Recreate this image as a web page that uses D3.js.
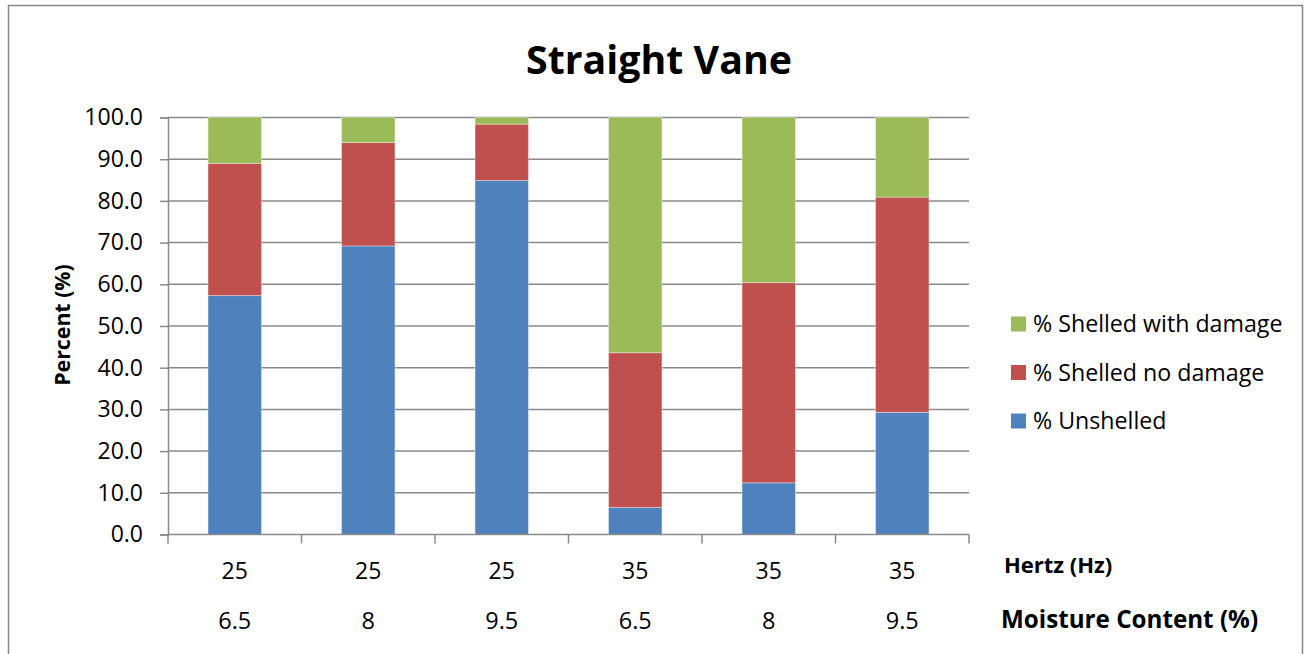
<!DOCTYPE html>
<html>
<head>
<meta charset="utf-8">
<script src="https://cdn.jsdelivr.net/npm/d3@7"></script>
<style>
  html, body { margin: 0; padding: 0; background: #fff; }
  svg { display: block; }
  text { font-family: "Open Sans", "Liberation Sans", sans-serif; fill: #000; }
</style>
</head>
<body>
<svg id="chart" width="1310" height="654"></svg>
<script>
// Test conditions: vibration frequency and kernel moisture content
const hertz = ["25", "25", "25", "35", "35", "35"];
const moisture = ["6.5", "8", "9.5", "6.5", "8", "9.5"];

// Outcome shares (%) for each condition
const unshelled        = [57.3, 69.2, 84.9,  6.5, 12.4, 29.3];
const shelledNoDamage  = [31.7, 24.8, 13.5, 37.1, 48.0, 51.6];
const shelledWithDamage= [11.0,  6.0,  1.6, 56.4, 39.6, 19.1];

const seriesNames = ["% Unshelled", "% Shelled no damage", "% Shelled with damage"];
const seriesColors = ["#4F81BD", "#C0504D", "#9BBB59"];
const yTicks = [0, 10, 20, 30, 40, 50, 60, 70, 80, 90, 100];

const svg = d3.select("#chart");
const plot = { left: 168, right: 969, top: 117.5, bottom: 534.5 };
const gridColor = "#8a8a8a";

// Outer chart border
svg.append("rect")
  .attr("x", 8.5).attr("y", 5.5)
  .attr("width", 1294).attr("height", 660)
  .attr("fill", "#fff").attr("stroke", "#888").attr("stroke-width", 1.5);

// Title
svg.append("text")
  .attr("x", 659).attr("y", 74)
  .attr("text-anchor", "middle")
  .attr("font-size", 39.3).attr("font-weight", 700)
  .text("Straight Vane");

const idx = d3.range(hertz.length);
const x = d3.scaleBand().domain(idx).range([plot.left, plot.right]).paddingInner(0).paddingOuter(0);
const y = d3.scaleLinear().domain([0, 100]).range([plot.bottom, plot.top]);

// Horizontal gridlines
svg.append("g")
  .selectAll("line")
  .data(yTicks.filter(d => d > 0))
  .join("line")
  .attr("x1", plot.left).attr("x2", plot.right)
  .attr("y1", d => y(d)).attr("y2", d => y(d))
  .attr("stroke", gridColor).attr("stroke-width", 1.5);

// Stacked bars
const rows = idx.map(i => ({ i, s0: unshelled[i], s1: shelledNoDamage[i], s2: shelledWithDamage[i] }));
const stacked = d3.stack().keys(["s0", "s1", "s2"])(rows);
const barW = x.bandwidth() * 0.4;

svg.append("g")
  .selectAll("g")
  .data(stacked)
  .join("g")
  .attr("fill", (d, k) => seriesColors[k])
  .selectAll("rect")
  .data(d => d)
  .join("rect")
  .attr("x", d => x(d.data.i) + (x.bandwidth() - barW) / 2)
  .attr("width", barW)
  .attr("y", d => y(d[1]))
  .attr("height", d => y(d[0]) - y(d[1]))
  .attr("stroke", "rgba(255,255,255,0.35)")
  .attr("stroke-width", 1);

// Y axis
const yAxis = d3.axisLeft(y).tickValues(yTicks).tickFormat(d3.format(".1f")).tickSize(8).tickPadding(17);
const gy = svg.append("g").attr("transform", `translate(${plot.left},0)`).call(yAxis);
gy.select(".domain").attr("stroke", gridColor).attr("stroke-width", 1.5);
gy.selectAll(".tick line").attr("stroke", gridColor).attr("stroke-width", 1.5);
gy.selectAll(".tick text").attr("font-size", 23).attr("font-family", "Open Sans").attr("fill", "#000");

// X axis line with boundary ticks
const boundaries = idx.map(i => x(i)).concat([plot.right]);
svg.append("line")
  .attr("x1", plot.left).attr("x2", plot.right)
  .attr("y1", plot.bottom).attr("y2", plot.bottom)
  .attr("stroke", gridColor).attr("stroke-width", 1.5);
svg.append("g")
  .selectAll("line")
  .data(boundaries)
  .join("line")
  .attr("x1", d => d).attr("x2", d => d)
  .attr("y1", plot.bottom).attr("y2", plot.bottom + 9)
  .attr("stroke", gridColor).attr("stroke-width", 1.5);

// Two rows of category labels
svg.append("g")
  .selectAll("text")
  .data(idx)
  .join("text")
  .attr("x", i => x(i) + x.bandwidth() / 2)
  .attr("y", 570)
  .attr("text-anchor", "middle").attr("dominant-baseline", "central")
  .attr("font-size", 23)
  .text(i => hertz[i]);

svg.append("g")
  .selectAll("text")
  .data(idx)
  .join("text")
  .attr("x", i => x(i) + x.bandwidth() / 2)
  .attr("y", 620)
  .attr("text-anchor", "middle").attr("dominant-baseline", "central")
  .attr("font-size", 23.5)
  .text(i => moisture[i]);

// Row titles
svg.append("text")
  .attr("x", 1004).attr("y", 564)
  .attr("dominant-baseline", "central")
  .attr("font-size", 22).attr("font-weight", 700)
  .text("Hertz (Hz)");
svg.append("text")
  .attr("x", 1001).attr("y", 618)
  .attr("dominant-baseline", "central")
  .attr("font-size", 24.2).attr("font-weight", 700)
  .text("Moisture Content (%)");

// Y axis title
svg.append("text")
  .attr("transform", "translate(61,325) rotate(-90)")
  .attr("text-anchor", "middle").attr("dominant-baseline", "central")
  .attr("font-size", 21.3).attr("font-weight", 700)
  .text("Percent (%)");

// Legend (top series listed first)
const legendOrder = [2, 1, 0];
const legendY = [324, 372.5, 421];
const lg = svg.append("g")
  .selectAll("g")
  .data(legendOrder)
  .join("g")
  .attr("transform", (k, j) => `translate(1011,${legendY[j]})`);
lg.append("rect")
  .attr("x", 0).attr("y", -7.5)
  .attr("width", 15).attr("height", 15)
  .attr("fill", k => seriesColors[k]);
lg.append("text")
  .attr("x", 22).attr("y", -1)
  .attr("dominant-baseline", "central")
  .attr("font-size", 23.2)
  .text(k => seriesNames[k]);
</script>
</body>
</html>
